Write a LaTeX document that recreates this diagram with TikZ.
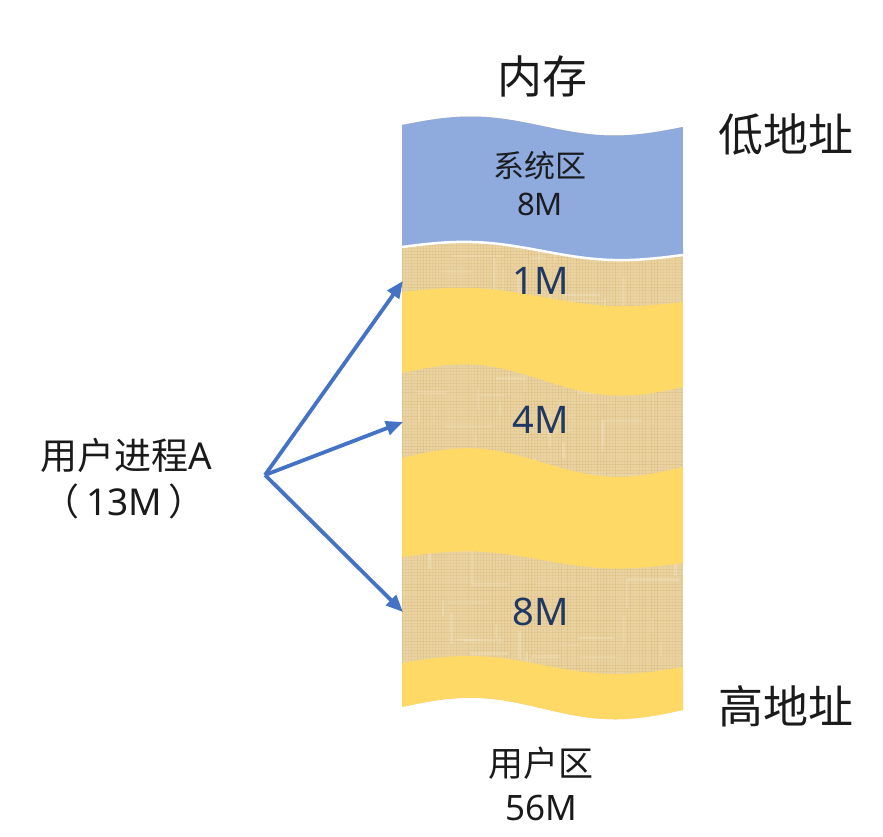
\documentclass[tikz,border=0pt]{standalone}
\usepackage{fontspec}
\setmainfont{Noto Sans CJK SC}
\newfontfamily\lat{Noto Sans}
\usetikzlibrary{arrows.meta}
\definecolor{sysblue}{HTML}{8FAADC}
\definecolor{bandyel}{HTML}{FFD966}
\definecolor{tanbase}{HTML}{EAD3A0}
\definecolor{tandark}{HTML}{C29A52}
\definecolor{tanlight}{HTML}{F7ECD0}
\definecolor{navy}{HTML}{1F3864}
\definecolor{arrblue}{HTML}{4472C4}
\definecolor{ink}{HTML}{1A1A1A}
\pgfmathdeclarefunction{wv}{4}{\pgfmathparse{#1+(#2-#1)*#4-#3*sin(360*#4)}}
\tikzset{
  fw/.style={domain=0:1,samples=60,variable=\s},
  bw/.style={domain=1:0,samples=60,variable=\s},
  bigtxt/.style={text=ink, inner sep=0pt, font=\fontsize{45}{46}\selectfont},
  midtxt/.style={text=ink, inner sep=0pt, align=center, font=\fontsize{35}{42}\selectfont},
  proctxt/.style={text=ink, inner sep=0pt, font=\fontsize{37}{40}\selectfont},
  systxt/.style={text=ink!90!navy, inner sep=0pt, font=\fontsize{31}{36}\selectfont},
  numtxt/.style={text=navy, inner sep=0pt, font=\lat\fontsize{38}{40}\selectfont},
  link/.style={draw=arrblue, line width=3.8pt, -{Triangle[length=17pt,width=14pt]}}
}
\begin{document}
\begin{tikzpicture}[x=1pt,y=-1pt]
\useasboundingbox (0,0) rectangle (883,837);
% tan textured column
\fill[tanbase] plot[fw] ({402+281*\s},{wv(125,127,9,\s)}) -- plot[bw] ({402+281*\s},{wv(707,710,10,\s)}) -- cycle;
\begin{scope}
  \clip plot[fw] ({402+281*\s},{wv(125,127,9,\s)}) -- plot[bw] ({402+281*\s},{wv(707,710,10,\s)}) -- cycle;
  \pgfmathsetseed{7}
  \foreach \i in {0,...,94} {
    \pgfmathsetmacro\op{0.03+0.2*rnd}
    \pgfmathsetmacro\px{402+3*\i}
    \draw[tandark, opacity=\op, line width=1pt] (\px,110) -- (\px,730);
  }
  \foreach \i in {0,...,207} {
    \pgfmathsetmacro\op{0.03+0.18*rnd}
    \pgfmathsetmacro\py{110+3*\i}
    \draw[tandark, opacity=\op, line width=1pt] (400,\py) -- (690,\py);
  }
  \foreach \i in {0,...,70} {
    \pgfmathsetmacro\op{0.12+0.2*rnd}
    \pgfmathsetmacro\px{402+281*rnd}
    \pgfmathsetmacro\py{240+480*rnd}
    \pgfmathsetmacro\pl{10+30*rnd}
    \draw[tanlight, opacity=\op, line width=2.5pt] (\px,\py) -- ++(0,\pl);
  }
  \foreach \i in {0,...,50} {
    \pgfmathsetmacro\op{0.12+0.2*rnd}
    \pgfmathsetmacro\px{402+281*rnd}
    \pgfmathsetmacro\py{240+480*rnd}
    \pgfmathsetmacro\pl{15+40*rnd}
    \draw[tanlight, opacity=\op, line width=2.5pt] (\px,\py) -- ++(\pl,0);
  }
\end{scope}
% system area
\fill[sysblue] plot[fw] ({402+281*\s},{wv(125,127,9,\s)}) -- plot[bw] ({402+281*\s},{wv(247,255,7,\s)}) -- cycle;
\draw[white, line width=2.5pt] plot[fw] ({402+281*\s},{wv(247,255,7,\s)});
% yellow bands
\fill[bandyel] plot[fw] ({402+281*\s},{wv(292,302,6.5,\s)}) -- plot[bw] ({402+281*\s},{wv(373,387,12,\s)}) -- cycle;
\fill[bandyel] plot[fw] ({402+281*\s},{wv(458,467,12,\s)}) -- plot[bw] ({402+281*\s},{wv(557,563,7,\s)}) -- cycle;
\fill[bandyel] plot[fw] ({402+281*\s},{wv(663,667,8,\s)}) -- plot[bw] ({402+281*\s},{wv(707,710,10,\s)}) -- cycle;
% texts
\node[bigtxt] (mem) at (542,76) {内存};
\node[bigtxt] (low) at (786,134) {低地址};
\node[bigtxt] (high) at (786,706) {高地址};
\node[systxt] (sys) at (540,166) {系统区};
\node[systxt, font=\lat\fontsize{31}{36}\selectfont] (sysm) at (540,204) {8M};
\node[numtxt] (m1) at (541,281) {1M};
\node[numtxt] (m4) at (541,420) {4M};
\node[numtxt] (m8) at (541,612) {8M};
\node[midtxt] (user) at (541,763) {用户区};
\node[midtxt, font=\lat\fontsize{35}{42}\selectfont] (userm) at (541,808) {56M};
\node[proctxt] (proc) at (126,455) {用户进程{\lat A}};
\node[proctxt] (procm) at (124,501) {（\,{\lat 13M}\,）};
% arrows
\coordinate (src) at (265,475);
\coordinate (t1) at (403,281);
\coordinate (t2) at (403,422);
\coordinate (t3) at (403,612);
\draw[link] (src) -- (t1);
\draw[link] (src) -- (t2);
\draw[link] (src) -- (t3);
\end{tikzpicture}
\end{document}
